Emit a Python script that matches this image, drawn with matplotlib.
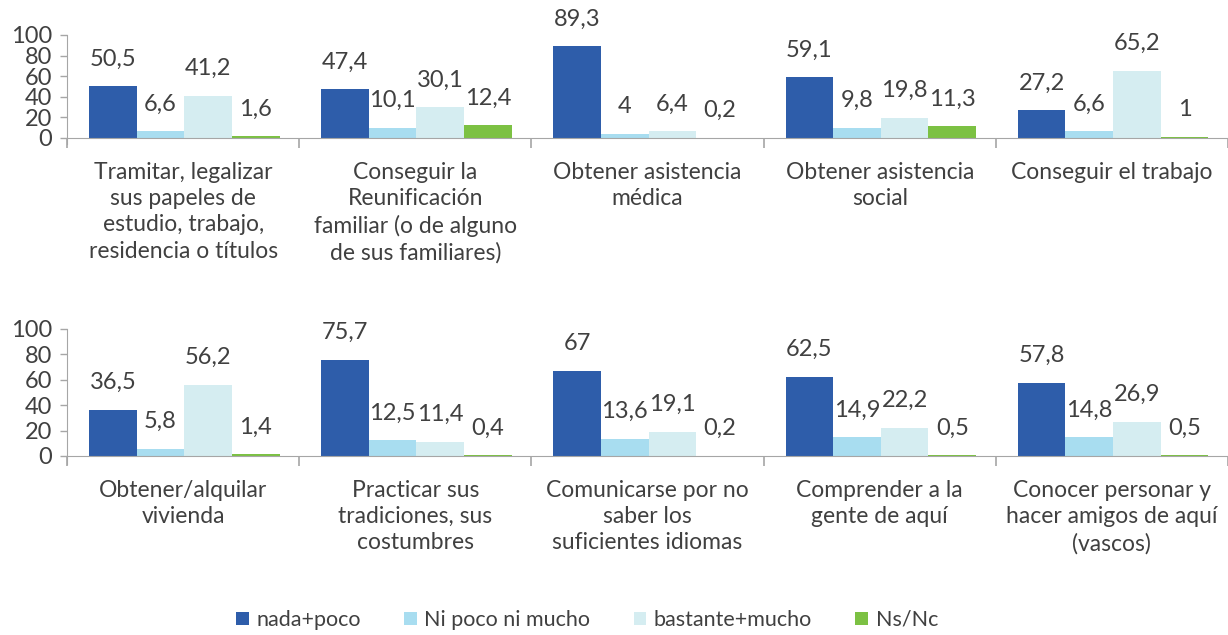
import matplotlib
matplotlib.use("Agg")
import matplotlib.pyplot as plt
from matplotlib.patches import Patch
import numpy as np

plt.rcParams["font.family"] = ["Lato", "DejaVu Sans"]

series_names = ["nada+poco", "Ni poco ni mucho", "bastante+mucho", "Ns/Nc"]
series_colors = ["#2E5DAA", "#A8DDF0", "#D5EDF1", "#7CC143"]

# top row
cats_top = [
    "Tramitar, legalizar\nsus papeles de\nestudio, trabajo,\nresidencia o títulos",
    "Conseguir la\nReunificación\nfamiliar (o de alguno\nde sus familiares)",
    "Obtener asistencia\nmédica",
    "Obtener asistencia\nsocial",
    "Conseguir el trabajo",
]
nada_top = [50.5, 47.4, 89.3, 59.1, 27.2]
ni_top = [6.6, 10.1, 4, 9.8, 6.6]
bastante_top = [41.2, 30.1, 6.4, 19.8, 65.2]
ns_top = [1.6, 12.4, 0.2, 11.3, 1]

# bottom row
cats_bottom = [
    "Obtener/alquilar\nvivienda",
    "Practicar sus\ntradiciones, sus\ncostumbres",
    "Comunicarse por no\nsaber los\nsuficientes idiomas",
    "Comprender a la\ngente de aquí",
    "Conocer personar y\nhacer amigos de aquí\n(vascos)",
]
nada_bottom = [36.5, 75.7, 67, 62.5, 57.8]
ni_bottom = [5.8, 12.5, 13.6, 14.9, 14.8]
bastante_bottom = [56.2, 11.4, 19.1, 22.2, 26.9]
ns_bottom = [1.4, 0.4, 0.2, 0.5, 0.5]

text_color = "#404040"
axis_color = "#A6A6A6"


def fmt(v):
    if float(v).is_integer():
        return str(int(v))
    return f"{v:.1f}".replace(".", ",")


def draw_row(ax, cats, values):
    x = np.arange(len(cats))
    width = 0.205
    offsets = [-1.5 * width, -0.5 * width, 0.5 * width, 1.5 * width]
    for vals, off, color in zip(values, offsets, series_colors):
        bars = ax.bar(x + off + 0.005, vals, width, color=color, linewidth=0)
        for bar, v in zip(bars, vals):
            ax.annotate(fmt(v), (bar.get_x() + bar.get_width() / 2, v),
                        xytext=(0, 19.5), textcoords="offset points",
                        ha="center", va="center", fontsize=17,
                        color=text_color, annotation_clip=False)
    ax.set_xlim(-0.5, len(cats) - 0.5)
    ax.set_ylim(0, 100)
    ax.set_yticks(range(0, 101, 20))
    ax.set_xticks(x)
    ax.set_xticklabels(cats, fontsize=16.5, color=text_color, linespacing=1.32)
    ax.set_xticks(np.arange(-0.5, len(cats)), minor=True)
    ax.tick_params(axis="x", which="major", length=0, pad=17)
    ax.tick_params(axis="x", which="minor", length=7, width=1.2, color=axis_color)
    ax.tick_params(axis="y", length=5, width=1, color=axis_color,
                   labelsize=17, labelcolor=text_color, pad=6)
    for side in ["top", "right"]:
        ax.spines[side].set_visible(False)
    ax.spines["left"].set_color(axis_color)
    ax.spines["bottom"].set_color(axis_color)
    ax.spines["left"].set_bounds(-6, 100)


fig = plt.figure(figsize=(12.28, 6.35), dpi=100)
ax_top = fig.add_axes([0.0546, 0.7827, 0.9454, 0.1622])
ax_bottom = fig.add_axes([0.0546, 0.2819, 0.9454, 0.2])

draw_row(ax_top, cats_top, [nada_top, ni_top, bastante_top, ns_top])
draw_row(ax_bottom, cats_bottom, [nada_bottom, ni_bottom, bastante_bottom, ns_bottom])

handles = [Patch(facecolor=c, edgecolor="none") for c in series_colors]
fig.legend(handles, series_names, loc="center left",
           bbox_to_anchor=(236 / 1228, 1 - 620 / 635), ncol=4, frameon=False,
           fontsize=15.5, handlelength=0.6, handleheight=0.6, handletextpad=0.35,
           columnspacing=2.0, labelcolor=text_color, borderaxespad=0, borderpad=0)

fig.savefig("out.png", dpi=100)
